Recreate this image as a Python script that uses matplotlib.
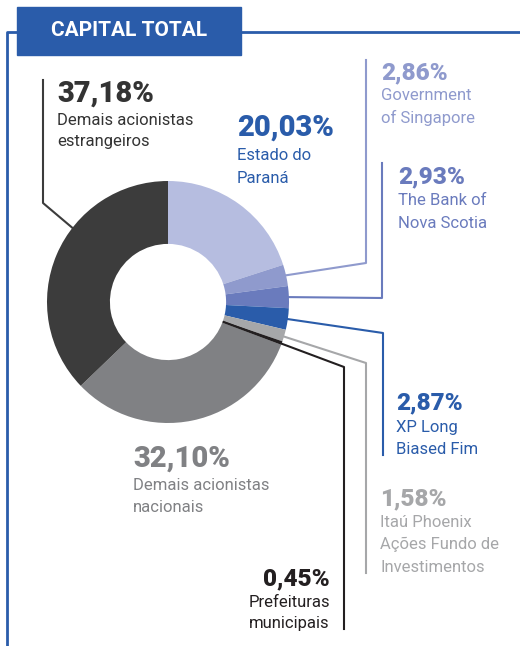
import numpy as np
import matplotlib
matplotlib.use("Agg")
import matplotlib.pyplot as plt
from matplotlib.patches import Rectangle

plt.rcParams['font.family'] = ['Roboto', 'DejaVu Sans']

# data
names = ["Estado do\nParaná", "Government\nof Singapore", "The Bank of\nNova Scotia",
         "XP Long\nBiased Fim", "Itaú Phoenix\nAções Fundo de\nInvestimentos",
         "Prefeituras\nmunicipais", "Demais acionistas\nnacionais",
         "Demais acionistas\nestrangeiros"]
shares = [20.03, 2.86, 2.93, 2.87, 1.58, 0.45, 32.10, 37.18]
colors = ["#b6bde0", "#8f9acd", "#6a7bbd", "#2a5caa", "#a6a7a9", "#231f20", "#808184", "#3c3c3c"]
text_colors = ["#2a5caa", "#8f9acd", "#6a7bbd", "#2a5caa", "#a6a7a9", "#231f20", "#808184", "#333333"]

W, H = 520, 646
fig = plt.figure(figsize=(W / 100, H / 100), dpi=100)
ax = fig.add_axes([0, 0, 1, 1])
ax.set_xlim(0, W)
ax.set_ylim(0, H)
ax.axis('off')

def Y(y):
    return H - y

cx, cy, R = 168, 302, 121
ax.pie(shares, colors=colors, startangle=90, counterclock=False, center=(cx, Y(cy)),
       radius=R, wedgeprops=dict(width=R * 0.52, linewidth=0))
ax.set_xlim(0, W)
ax.set_ylim(0, H)
ax.set_aspect('equal')

# wedge angles (degrees, clockwise from top)
fr = np.array(shares) / sum(shares) * 360
ends = 90 - np.cumsum(fr)
starts = ends + fr

def anchor(i, frac=0.5, rad=1.0):
    a = np.deg2rad(starts[i] - frac * fr[i])
    return cx + R * rad * np.cos(a), cy - R * rad * np.sin(a)

# frame and title
ax.plot([7, 7, W], [Y(H), Y(32), Y(32)], color="#2a5caa", lw=2, solid_capstyle='butt')
ax.add_patch(Rectangle((17, Y(55)), 224, 48, color="#2a5caa", zorder=3))
ax.text(129, Y(31), "CAPITAL TOTAL", color="white", fontsize=15, fontweight='bold',
        ha='center', va='center', zorder=4)

# leader lines: (index, frac, radius, elbow, end)
leaders = [
    (7, 0.61, 1.0, (43, 203), (43, 80)),
    (1, 0.5, 1.0, (366, 263), (366, 60)),
    (2, 0.5, 1.0, (382, 298), (382, 163)),
    (3, 0.5, 1.0, (383, 333), (383, 455)),
    (4, 0.5, 0.73, (366, 363), (366, 573)),
    (5, 0.5, 0.49, (344, 367), (344, 629)),
]
for i, f, r, (ex, ey), (tx, ty) in leaders:
    sx, sy = anchor(i, f, r)
    ax.plot([sx, ex, tx], [Y(sy), Y(ey), Y(ty)], color=colors[i], lw=1.5, zorder=5)

# labels: (index, x, pct baseline, first text baseline, line step, pct size, text size, ha)
labels = [
    (7, 57, 102, 125, 21, 21, 12, 'left'),
    (0, 237, 136, 160, 23, 21, 12, 'left'),
    (1, 381, 79, 100, 23, 17.5, 12, 'left'),
    (2, 398, 183, 205, 23, 17.5, 12, 'left'),
    (3, 396, 409, 432, 22, 17.5, 12, 'left'),
    (4, 380, 505, 527, 22.5, 17.5, 12, 'left'),
    (5, 330, 585, 607, 21, 17.5, 12, 'right'),
    (6, 133, 467, 490, 22, 21, 12, 'left'),
]
for i, x, pb, tb, step, ps, ts, ha in labels:
    pct = f"{shares[i]:.2f}%".replace(".", ",")
    ax.text(x, Y(pb), pct, color=text_colors[i], fontsize=ps, fontweight='heavy',
            ha=ha, va='baseline')
    for k, line in enumerate(names[i].split("\n")):
        ax.text(x, Y(tb + k * step), line, color=text_colors[i], fontsize=ts,
                ha=ha, va='baseline')

fig.savefig("out.png", dpi=100)
